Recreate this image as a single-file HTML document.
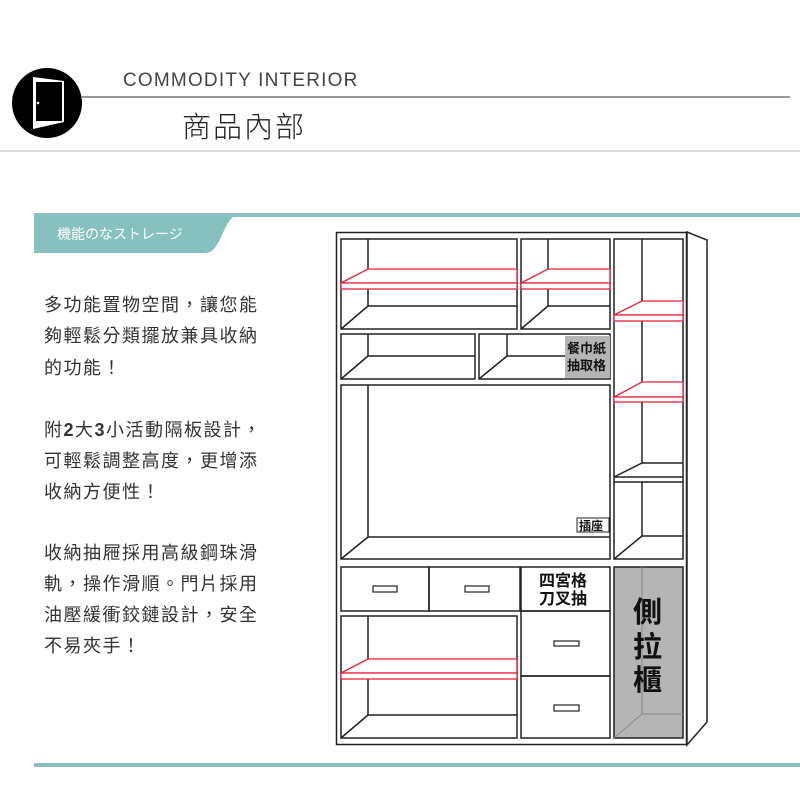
<!DOCTYPE html>
<html><head><meta charset="utf-8"><style>
html,body{margin:0;padding:0;background:#fff;}
body{width:800px;height:800px;position:relative;overflow:hidden;font-family:"Liberation Sans","Noto Sans CJK TC",sans-serif;}
</style></head><body>
<svg width="800" height="800" viewBox="0 0 800 800" xmlns="http://www.w3.org/2000/svg" style="position:absolute;left:0;top:0">
<!-- header -->
<circle cx="47" cy="103" r="35" fill="#000"/>
<polygon points="33,77 64,81 64,122 33,129" fill="#fff"/>
<rect x="36" y="82" width="26" height="39" fill="#000"/>
<circle cx="38" cy="103" r="1.3" fill="#fff"/>
<text x="123" y="86" font-size="19" fill="#444" letter-spacing="1.2" font-family="Liberation Sans,sans-serif">COMMODITY INTERIOR</text>
<rect x="82" y="96" width="708" height="2" fill="#999"/>
<text x="182" y="137" font-size="29" fill="#222" letter-spacing="2" font-family="Noto Sans CJK TC,sans-serif" font-weight="300">商品內部</text>
<rect x="0" y="150" width="800" height="2" fill="#ddd"/>
<!-- teal label -->
<rect x="230" y="213" width="570" height="4" fill="#86c1bf"/>
<path d="M34,213 L245,213 C232,213 228,222 222,235 C217,246 213,253 205,253 L34,253 Z" fill="#86c1bf"/>
<text x="57" y="239" font-size="14" fill="#fff" font-family="Noto Sans CJK JP,sans-serif">機能のなストレージ</text>
<rect x="34" y="763" width="766" height="4" fill="#86c1bf"/>
<!-- left text -->
<g font-size="18" fill="#333" letter-spacing="1.5" font-family="Liberation Sans,Noto Sans CJK TC,sans-serif">
<text x="44" y="311">多功能置物空間，讓您能</text>
<text x="44" y="342">夠輕鬆分類擺放兼具收納</text>
<text x="44" y="374">的功能！</text>
<text x="44" y="436">附<tspan font-weight="bold">2</tspan>大<tspan font-weight="bold">3</tspan>小活動隔板設計，</text>
<text x="44" y="467">可輕鬆調整高度，更增添</text>
<text x="44" y="498">收納方便性！</text>
<text x="44" y="559">收納抽屜採用高級鋼珠滑</text>
<text x="44" y="590">軌，操作滑順。門片採用</text>
<text x="44" y="621">油壓緩衝鉸鏈設計，安全</text>
<text x="44" y="652">不易夾手！</text>
</g>
<!-- cabinet -->
<g stroke="#222" stroke-width="1.5" fill="none">
<rect x="336.5" y="232.5" width="350" height="512" fill="#fff"/>
<polygon points="687,232 707,240 707,722 687,745" fill="#fff"/>
<rect x="341" y="239" width="176" height="90"/>
<line x1="368" y1="239" x2="368" y2="306"/><line x1="368" y1="306" x2="517" y2="306"/><line x1="341" y1="329" x2="368" y2="306"/>
<rect x="521" y="239" width="89" height="90"/>
<line x1="548" y1="239" x2="548" y2="306"/><line x1="548" y1="306" x2="610" y2="306"/><line x1="521" y1="329" x2="548" y2="306"/>
<rect x="614" y="239" width="69" height="320"/>
<line x1="642" y1="239" x2="642" y2="463"/><line x1="642" y1="463" x2="683" y2="463"/><line x1="614" y1="477" x2="642" y2="463"/>
<line x1="614" y1="477" x2="683" y2="477"/><line x1="614" y1="482" x2="683" y2="482"/>
<line x1="642" y1="482" x2="642" y2="536"/><line x1="642" y1="536" x2="683" y2="536"/><line x1="614" y1="559" x2="642" y2="536"/>
<rect x="341" y="334" width="134" height="45"/>
<line x1="368" y1="334" x2="368" y2="356"/><line x1="368" y1="356" x2="475" y2="356"/><line x1="341" y1="379" x2="368" y2="356"/>
<rect x="479" y="334" width="131" height="45"/>
<line x1="507" y1="334" x2="507" y2="356"/><line x1="507" y1="356" x2="565" y2="356"/><line x1="479" y1="379" x2="507" y2="356"/>
<rect x="341" y="385" width="269" height="174"/>
<line x1="368" y1="385" x2="368" y2="537"/><line x1="368" y1="537" x2="610" y2="537"/><line x1="341" y1="559" x2="368" y2="537"/>
<rect x="341" y="567" width="88" height="44"/>
<rect x="429" y="567" width="91" height="44"/>
<rect x="521" y="567" width="89" height="44"/>
<rect x="373" y="586" width="24" height="6" stroke-width="1.2"/>
<rect x="465" y="586" width="24" height="6" stroke-width="1.2"/>
<rect x="341" y="616" width="176" height="122"/>
<line x1="368" y1="616" x2="368" y2="715"/><line x1="368" y1="715" x2="517" y2="715"/><line x1="341" y1="738" x2="368" y2="715"/>
<rect x="521" y="611" width="89" height="65"/>
<rect x="521" y="676" width="89" height="62"/>
<rect x="554" y="641" width="25" height="5" stroke-width="1.2"/>
<rect x="554" y="705" width="25" height="6" stroke-width="1.2"/>
<rect x="614" y="567" width="69" height="171" fill="#b5b5b5"/>
<line x1="642" y1="567" x2="642" y2="714" stroke="#888" stroke-width="1"/><line x1="642" y1="714" x2="683" y2="714" stroke="#888" stroke-width="1"/><line x1="614" y1="738" x2="642" y2="714" stroke="#888" stroke-width="1"/>
</g>
<g stroke="#e8213a" stroke-width="1.3" fill="#fff">
<polygon points="368,269 517,269 517,283 341,283"/><rect x="341" y="283" width="176" height="6"/>
<polygon points="548,269 610,269 610,283 521,283"/><rect x="521" y="283" width="89" height="6"/>
<polygon points="642,301 683,301 683,315 614,315"/><rect x="614" y="315" width="69" height="6"/>
<polygon points="642,382 683,382 683,397 614,397"/><rect x="614" y="397" width="69" height="5"/>
<polygon points="368,659 517,659 517,673 341,673"/><rect x="341" y="673" width="176" height="6"/>
</g>
<rect x="565" y="336" width="45" height="42" fill="#b5b5b5"/>
<g font-family="Noto Sans CJK TC,sans-serif" font-weight="bold" fill="#111">
<text x="567" y="353" font-size="13">餐巾紙</text>
<text x="567" y="370" font-size="13">抽取格</text>
<rect x="577" y="518" width="32" height="14" fill="#fff" stroke="#222" stroke-width="1"/>
<text x="579" y="530" font-size="12">插座</text>
<text x="539" y="586" font-size="16">四宮格</text>
<text x="539" y="604" font-size="16">刀叉抽</text>
<text x="633" y="622" font-size="29">側</text>
<text x="633" y="657" font-size="29">拉</text>
<text x="633" y="690" font-size="29">櫃</text>
</g>
</svg>
</body></html>
